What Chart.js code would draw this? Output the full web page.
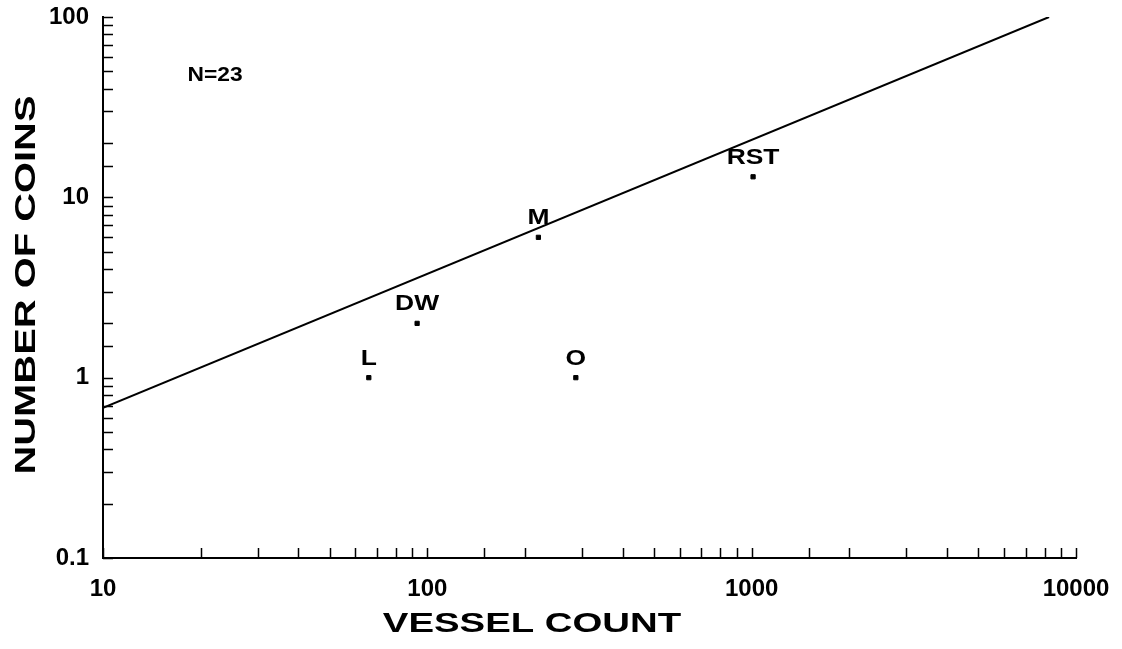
<!DOCTYPE html>
<html>
<head>
<meta charset="utf-8">
<title>Coins vs vessel count</title>
<script src="https://cdn.jsdelivr.net/npm/chart.js@4/dist/chart.umd.min.js"></script>
<style>
  body { margin: 0; background: #fff; }
  #wrap { width: 1122px; height: 649px; }
</style>
</head>
<body>
<div id="wrap"><canvas id="graph" width="1122" height="649"></canvas></div>
<script>
/// data ///
const siteLabels = ['L', 'DW', 'M', 'O', 'RST'];
const vesselCounts = [66, 93, 220, 287, 1010];
const coinCounts = [1, 2, 6, 1, 13];

const fitX = [10, 8260];
const fitY = [0.68, 100];

const xTickLabels = [10, 100, 1000, 10000];
const yTickLabels = [0.1, 1, 10, 100];

const sampleNote = 'N=23';
const xTitle = 'VESSEL COUNT';
const yTitle = 'NUMBER OF COINS';

const FONT = '"Liberation Sans", Arial, Helvetica, sans-serif';

/// helpers ///
function isLabelled(v, list) {
  return list.some(t => Math.abs(v - t) / t < 1e-6);
}

// wide bold text, the original uses an extended face
function wideText(ctx, text, x, y, size, sx, rot) {
  ctx.save();
  ctx.translate(x, y);
  if (rot) ctx.rotate(rot);
  ctx.scale(sx, 1);
  ctx.font = 'bold ' + size + 'px ' + FONT;
  ctx.fillStyle = '#000';
  ctx.textAlign = 'center';
  ctx.textBaseline = 'alphabetic';
  ctx.fillText(text, 0, 0);
  ctx.restore();
}

/// plugin: inward ticks, point labels, titles ///
const decorations = {
  id: 'decorations',
  afterDraw(chart) {
    const ctx = chart.ctx;
    const xs = chart.scales.x;
    const ys = chart.scales.y;
    const area = chart.chartArea;

    ctx.save();
    ctx.strokeStyle = '#000';
    ctx.lineWidth = 1.5;
    ctx.beginPath();
    xs.ticks.forEach(t => {
      const px = Math.round(xs.getPixelForValue(t.value)) + 0.5;
      ctx.moveTo(px, area.bottom);
      ctx.lineTo(px, area.bottom - 10);
    });
    ys.ticks.forEach(t => {
      const py = Math.round(ys.getPixelForValue(t.value)) + 0.5;
      ctx.moveTo(area.left, py);
      ctx.lineTo(area.left + 10, py);
    });
    ctx.stroke();
    ctx.restore();

    // site names above the points
    const meta = chart.getDatasetMeta(1);
    meta.data.forEach((pt, i) => {
      wideText(ctx, siteLabels[i], pt.x, pt.y - 13, 22, 1.2);
    });

    // sample size note
    wideText(ctx, sampleNote, area.left + 112, area.top + 64, 20, 1.14);

    // axis titles
    wideText(ctx, xTitle, 532, 632, 28, 1.37);
    wideText(ctx, yTitle, 35, 285, 30, 1.33, -Math.PI / 2);
  }
};

/// chart ///
const ctx = document.getElementById('graph').getContext('2d');
const myChart = new Chart(ctx, {
  type: 'scatter',
  data: {
    datasets: [
      {
        type: 'line',
        label: 'fit',
        data: fitX.map((x, i) => ({ x: x, y: fitY[i] })),
        borderColor: '#000',
        borderWidth: 2,
        pointRadius: 0,
        fill: false,
        tension: 0
      },
      {
        label: 'sites',
        data: vesselCounts.map((x, i) => ({ x: x, y: coinCounts[i] })),
        pointStyle: 'rect',
        pointRadius: 3,
        backgroundColor: '#000',
        borderColor: '#000',
        borderWidth: 1
      }
    ]
  },
  options: {
    responsive: false,
    animation: false,
    layout: { padding: { top: 17, right: 46, bottom: 0, left: 0 } },
    plugins: {
      legend: { display: false },
      tooltip: { enabled: false }
    },
    scales: {
      x: {
        type: 'logarithmic',
        min: 10,
        max: 10000,
        grid: { display: false, drawTicks: false },
        border: { display: true, color: '#000', width: 2 },
        ticks: {
          autoSkip: false,
          maxRotation: 0,
          padding: 17,
          color: '#000',
          font: { family: FONT, size: 24, weight: 'bold' },
          callback: v => isLabelled(v, xTickLabels) ? String(v) : ''
        },
        afterFit: s => { s.height = 91; s.paddingLeft = 0; s.paddingRight = 0; }
      },
      y: {
        type: 'logarithmic',
        min: 0.1,
        max: 100,
        grid: { display: false, drawTicks: false },
        border: { display: true, color: '#000', width: 2 },
        ticks: {
          autoSkip: false,
          padding: 14,
          color: '#000',
          font: { family: FONT, size: 24, weight: 'bold' },
          callback: v => isLabelled(v, yTickLabels) ? String(v) : ''
        },
        afterFit: s => { s.width = 103; s.paddingTop = 0; s.paddingBottom = 0; }
      }
    }
  },
  plugins: [decorations]
});
</script>
</body>
</html>
